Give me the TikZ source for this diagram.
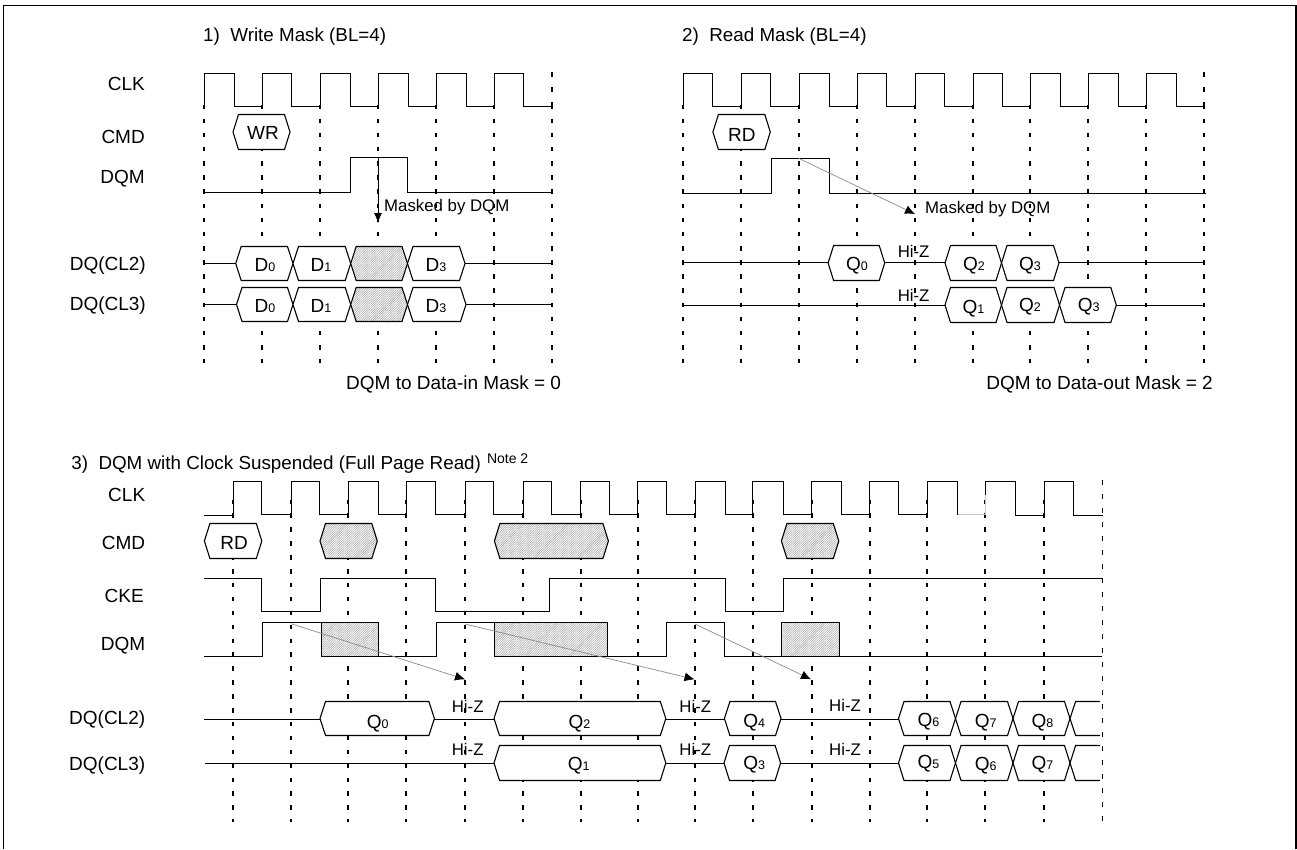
\documentclass[tikz,border=0pt]{standalone}
\usepackage{fontspec}
\setmainfont{Liberation Sans}
\usetikzlibrary{arrows.meta,patterns.meta}
\newcommand\lowdig[1]{{\fontsize{12.5}{12.5}\selectfont #1}}
\tikzset{
  x=1pt,y=-1pt,
  sig/.style={line width=1.1pt,line join=miter,black},
  griddash/.style={line width=2pt,black,dash pattern=on 4.5pt off 9.65pt},
  griddashb/.style={line width=2pt,black,dash pattern=on 4.5pt off 9.4pt},
  thindash/.style={line width=1pt,black,dash pattern=on 5pt off 9pt},
  hexplain/.style={sig,fill=white},
  hexhatch/.style={sig,preaction={fill=white},pattern={Lines[angle=45,distance=1.6pt,line width=0.55pt]},pattern color=black!35},
  lab/.style={font=\fontsize{19}{20}\selectfont,inner sep=0pt,text height=13.5pt,text depth=0pt},
  ttl/.style={font=\fontsize{18.8}{20}\selectfont,inner sep=0pt,text height=13.5pt,text depth=0pt},
  small/.style={font=\fontsize{16.8}{18}\selectfont,inner sep=0pt,text height=12pt,text depth=0pt},
  note/.style={font=\fontsize{14}{16}\selectfont,inner sep=0pt,text height=10pt,text depth=0pt},
  maskarrow/.style={line width=0.7pt,black!45,-{Latex[black,length=10pt,width=9pt]}},
}
% left tip, right tip, top, bottom, style
\newcommand\hexa[5]{\draw[#5] (#1,{(#3+#4)/2}) -- (#1+5.5,#3) -- (#2-5.5,#3) -- (#2,{(#3+#4)/2}) -- (#2-5.5,#4) -- (#1+5.5,#4) -- cycle;}
\begin{document}
\begin{tikzpicture}
\useasboundingbox (0,0) rectangle (1297,849);
\fill[white] (0,0) rectangle (1297,849);
\draw[line width=1.2pt] (3.5,849) -- (3.5,5.5) -- (1296,5.5) -- (1296,849);

% ---------- grids
\foreach \gx in {204,262,320,378,436,494,552,683,741,799,857,915,973,1030,1088,1146,1204}
  \draw[griddash] (\gx,104.5) -- (\gx,363);
\foreach \gx in {552,1204}
  \draw[line width=2pt,dash pattern=on 5pt off 10pt] (\gx,72) -- (\gx,107);
\foreach \gx in {233,291,348,406,465,523,581,638,695,753,812,870,927,985,1044}
  \draw[griddashb] (\gx,499.5) -- (\gx,822);
\draw[thindash] (1102.5,480) -- (1102.5,822);

% ---------- panel 1
\draw[sig] (204.5,106.5) -- (204.5,73.5) -| (234.5,106.5) -| (262.5,73.5) -| (291.5,106.5) -| (320.5,73.5) -| (350.5,106.5) -| (378.5,73.5) -| (408.5,106.5) -| (436.5,73.5) -| (466.5,106.5) -| (494.5,73.5) -| (523.5,106.5) -- (552,106.5);
\hexa{233}{290}{114.5}{149.5}{hexplain}
\draw[sig] (204.5,192.5) -| (350.5,157.5) -| (407.5,192.5) -- (552,192.5);
\draw[sig] (204.5,263.5) -- (235.7,263.5);
\draw[sig] (465,263.5) -- (552,263.5);
\hexa{235.7}{293}{246.5}{280.5}{hexplain}
\hexa{293}{350.7}{246.5}{280.5}{hexplain}
\hexa{350.7}{407.5}{246.5}{280.5}{hexhatch}
\hexa{407.5}{465}{246.5}{280.5}{hexplain}
\draw[sig] (204.5,304.5) -- (236.5,304.5);
\draw[sig] (466,304.5) -- (552,304.5);
\hexa{236.5}{293}{287.5}{321.5}{hexplain}
\hexa{293}{350.7}{287.5}{321.5}{hexplain}
\hexa{350.7}{407.5}{287.5}{321.5}{hexhatch}
\hexa{407.5}{466}{287.5}{321.5}{hexplain}

\node[ttl,anchor=west] (t1) at (203,34.5) {1)\ \ Write Mask (BL=4)};
\node[lab,anchor=east] (a1) at (145,84) {CLK};
\node[lab,anchor=east] (a2) at (145,136.7) {CMD};
\node[lab,anchor=east] (a3) at (145,177) {DQM};
\node[lab,anchor=east] (a4) at (146,264) {DQ(CL2)};
\node[lab,anchor=east] (a5) at (146,304) {DQ(CL3)};
\node[lab] (wr) at (263,133) {WR};
\node[lab] (d0a) at (265,265) {D\lowdig{0}};
\node[lab] (d1a) at (321,265) {D\lowdig{1}};
\node[lab] (d3a) at (436,265) {D\lowdig{3}};
\node[lab] (d0b) at (265,306) {D\lowdig{0}};
\node[lab] (d1b) at (321,306) {D\lowdig{1}};
\node[lab] (d3b) at (436,306) {D\lowdig{3}};
\node[small,anchor=west] (m1) at (384,205) {Masked by DQM};
\node[lab,anchor=west] (r1) at (346,383) {DQM to Data-in Mask = 0};
\coordinate (m1s) at (378,157.5);
\coordinate (m1e) at (378,223);
\draw[line width=0.8pt,black,-{Latex[black,length=10pt,width=8pt]}] (m1s) -- (m1e);

% ---------- panel 2
\draw[sig] (683.5,106.5) -- (683.5,73.5) -| (712.5,106.5) -| (741.5,73.5) -| (770.5,106.5) -| (799.5,73.5) -| (829.5,106.5) -| (857.5,73.5) -| (886.5,106.5) -| (915.5,73.5) -| (944.5,106.5) -| (973.5,73.5) -| (1002.5,106.5) -| (1030.5,73.5) -| (1060.5,106.5) -| (1088.5,73.5) -| (1118.5,106.5) -| (1146.5,73.5) -| (1176.5,106.5) -- (1204.5,106.5);
\hexa{712.9}{770.3}{114.5}{149.5}{hexplain}
\draw[sig] (683.5,193.5) -| (771.5,158.5) -| (829.5,193.5) -- (1205.6,193.5);
\draw[sig] (683.5,262.5) -- (1205,262.5);
\draw[sig] (683.5,305.5) -- (1205,305.5);
\hexa{828.1}{884.7}{245.5}{280.5}{hexplain}
\hexa{945}{1001.5}{245.5}{280.5}{hexplain}
\hexa{1001.5}{1059}{245.5}{280.5}{hexplain}
\hexa{945}{1001.5}{287.5}{322.5}{hexplain}
\hexa{1001.5}{1059.5}{287.5}{322.5}{hexplain}
\hexa{1059.5}{1116.3}{287.5}{322.5}{hexplain}
\node[ttl,anchor=west] (t2) at (682,34.7) {2)\ \ Read Mask (BL=4)};
\node[lab] (rd2) at (741.8,134.7) {RD};
\node[lab] (q0p) at (857,264) {Q\lowdig{0}};
\node[lab] (q2p) at (974,264) {Q\lowdig{2}};
\node[lab] (q3p) at (1030,264) {Q\lowdig{3}};
\node[lab] (q1r) at (973.5,307) {Q\lowdig{1}};
\node[lab] (q2r) at (1030,305) {Q\lowdig{2}};
\node[lab] (q3r) at (1088.7,305) {Q\lowdig{3}};
\node[small] (hz1) at (913.6,251) {Hi-Z};
\node[small] (hz2) at (913.6,295) {Hi-Z};
\node[small,anchor=west] (m2) at (925,207.3) {Masked by DQM};
\node[lab,anchor=east] (r2) at (1213,383) {DQM to Data-out Mask = 2};
\coordinate (m2s) at (799,158.5);
\coordinate (m2e) at (915,214);
\draw[maskarrow] (m2s) -- (m2e);

% ---------- panel 3
\draw[sig] (204.4,515.5) -- (233.5,515.5) -- (233.5,481.5) -| (261.5,514.5) -| (291.5,481.5) -| (319.5,514.5) -| (348.5,481.5) -| (378.5,514.5) -| (406.5,481.5) -| (435.5,514.5) -| (465.5,481.5) -| (493.5,514.5) -| (523.5,481.5) -| (551.5,514.5) -| (580.5,481.5) -| (609.5,514.5) -| (637.5,481.5) -| (666.5,514.5) -| (695.5,481.5) -| (725.5,514.5) -| (752.5,481.5) -| (783.5,514.5) -| (811.5,481.5) -| (841.5,514.5) -| (869.5,481.5) -| (898.5,514.5) -| (927.5,481.5) -| (957.5,514.5);
\draw[line width=1.1pt,black!22] (957.5,514.5) -| (985.5,495);
\draw[sig] (985.5,495) |- (1015.5,481.5) -- (1015.5,515.5) -| (1044.5,481.5) -| (1073.5,515.5) -- (1102.5,515.5);
\hexa{204.4}{261.8}{523.5}{558.5}{hexplain}
\hexa{320}{377.3}{523.5}{558.5}{hexhatch}
\hexa{494.4}{608.4}{523.5}{558.5}{hexhatch}
\hexa{781.4}{838.8}{523.5}{558.5}{hexhatch}
\draw[sig] (204.4,578.5) -| (261.5,611.5) -| (320.5,578.5) -| (435.5,611.5) -| (549.5,578.5) -| (725.5,611.5) -| (783.5,578.5) -- (1102.5,578.5);
\draw[sig] (204.4,656.5) -| (262.5,622.5) -- (321.5,622.5);
\draw[sig] (378.5,656.5) -| (436.5,622.5) -- (494.5,622.5);
\draw[sig] (607.5,656.5) -| (666.5,622.5) -| (724.5,656.5) -- (781.5,656.5);
\draw[sig] (839.5,656.5) -- (1101.7,656.5);
\draw[hexhatch] (321.5,622.5) rectangle (378.5,656.5);
\draw[hexhatch] (494.5,622.5) rectangle (607.5,656.5);
\draw[hexhatch] (781.5,622.5) rectangle (839.5,656.5);
\draw[sig] (204.4,719.5) -- (320,719.5);
\draw[sig] (434.4,719.5) -- (494,719.5);
\draw[sig] (665.8,719.5) -- (724.4,719.5);
\draw[sig] (781,719.5) -- (898.5,719.5);
\draw[sig] (205.1,763.5) -- (494,763.5);
\draw[sig] (665.8,763.5) -- (724,763.5);
\draw[sig] (780.6,763.5) -- (898.5,763.5);
\hexa{320}{434.4}{701.5}{735.5}{hexplain}
\hexa{494}{665.8}{701.5}{735.5}{hexplain}
\hexa{724.4}{781}{701.5}{735.5}{hexplain}
\hexa{898.5}{955.5}{701.5}{735.5}{hexplain}
\hexa{955.5}{1013}{701.5}{735.5}{hexplain}
\hexa{1013}{1070}{701.5}{735.5}{hexplain}
\hexa{494}{665.8}{745.5}{780.5}{hexplain}
\hexa{724}{780.6}{745.5}{780.5}{hexplain}
\hexa{898.5}{955.5}{745.5}{780.5}{hexplain}
\hexa{955.5}{1013}{745.5}{780.5}{hexplain}
\hexa{1013}{1070}{745.5}{780.5}{hexplain}
\draw[sig] (1100,701.5) -- (1075.6,701.5) -- (1070,718.5) -- (1075.6,735.5) -- (1100,735.5);
\draw[sig] (1100,745.5) -- (1075.6,745.5) -- (1070,763) -- (1075.6,780.5) -- (1100,780.5);

\node[ttl,anchor=west] (t3) at (71.2,462.7) {3)\ \ DQM with Clock Suspended (Full Page Read)};
\node[note,anchor=west] (n3) at (486.8,458.3) {Note 2};
\node[lab,anchor=east] (b1) at (145.4,494.7) {CLK};
\node[lab,anchor=east] (b2) at (145.4,542.7) {CMD};
\node[lab,anchor=east] (b3) at (144,596) {CKE};
\node[lab,anchor=east] (b4) at (145.4,643.3) {DQM};
\node[lab,anchor=east] (b5) at (145.4,717.7) {DQ(CL2)};
\node[lab,anchor=east] (b6) at (145.4,764) {DQ(CL3)};
\node[lab] (rd3) at (234,542.7) {RD};
\node[lab] (q0u) at (377.7,721.7) {Q\lowdig{0}};
\node[lab] (q2u) at (579.4,722) {Q\lowdig{2}};
\node[lab] (q4u) at (754.2,720.7) {Q\lowdig{4}};
\node[lab] (q6u) at (928.4,720) {Q\lowdig{6}};
\node[lab] (q7u) at (985.8,721) {Q\lowdig{7}};
\node[lab] (q8u) at (1042.4,721) {Q\lowdig{8}};
\node[lab] (q1l) at (578.7,763.3) {Q\lowdig{1}};
\node[lab] (q3l) at (754.2,762.3) {Q\lowdig{3}};
\node[lab] (q5l) at (928.4,761.3) {Q\lowdig{5}};
\node[lab] (q6l) at (985.8,763.3) {Q\lowdig{6}};
\node[lab] (q7l) at (1042.4,763) {Q\lowdig{7}};
\node[small] (hz3) at (467.7,706) {Hi-Z};
\node[small] (hz4) at (467.7,749.3) {Hi-Z};
\node[small] (hz5) at (695.3,706) {Hi-Z};
\node[small] (hz6) at (695.3,749.3) {Hi-Z};
\node[small] (hz7) at (845,705.3) {Hi-Z};
\node[small] (hz8) at (845,749.3) {Hi-Z};
\coordinate (s1) at (291,623.7);
\coordinate (e1) at (465,679.3);
\coordinate (s2) at (465,624);
\coordinate (e2) at (694.5,679.3);
\coordinate (s3) at (695,624);
\coordinate (e3) at (811,679.3);
\draw[maskarrow] (s1) -- (e1);
\draw[maskarrow] (s2) -- (e2);
\draw[maskarrow] (s3) -- (e3);
\end{tikzpicture}
\end{document}
